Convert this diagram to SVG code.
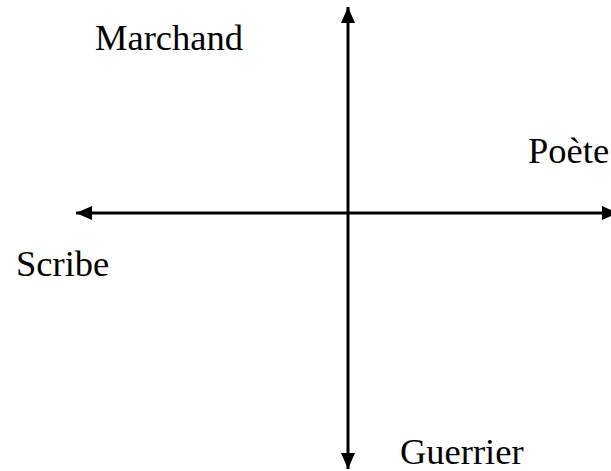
<svg xmlns="http://www.w3.org/2000/svg" width="611" height="471" viewBox="0 0 611 471">
<style>
.lbl{font-family:"Liberation Serif","Times New Roman",serif;font-size:36.5px;fill:#000}
.ax{stroke:#000;stroke-width:3;fill:none}
</style>
<defs>
<marker id="ah" viewBox="0 0 16 14" refX="16" refY="7" markerWidth="16" markerHeight="14" markerUnits="userSpaceOnUse" orient="auto">
<path d="M0,0 L16,7 L0,14 Z" fill="#000"/>
</marker>
</defs>
<g id="connectors">
<line class="ax" x1="348" y1="213" x2="348" y2="7" marker-end="url(#ah)"/>
<line class="ax" x1="348" y1="213" x2="348" y2="469" marker-end="url(#ah)"/>
<line class="ax" x1="348" y1="213" x2="76" y2="213" marker-end="url(#ah)"/>
<line class="ax" x1="348" y1="213" x2="618" y2="213" marker-end="url(#ah)"/>
</g>
<g id="marchand"><text class="lbl" x="95" y="50">Marchand</text></g>
<g id="poete"><text class="lbl" x="528" y="163">Poète</text></g>
<g id="scribe"><text class="lbl" x="16" y="276">Scribe</text></g>
<g id="guerrier"><text class="lbl" x="400" y="464">Guerrier</text></g>
</svg>
